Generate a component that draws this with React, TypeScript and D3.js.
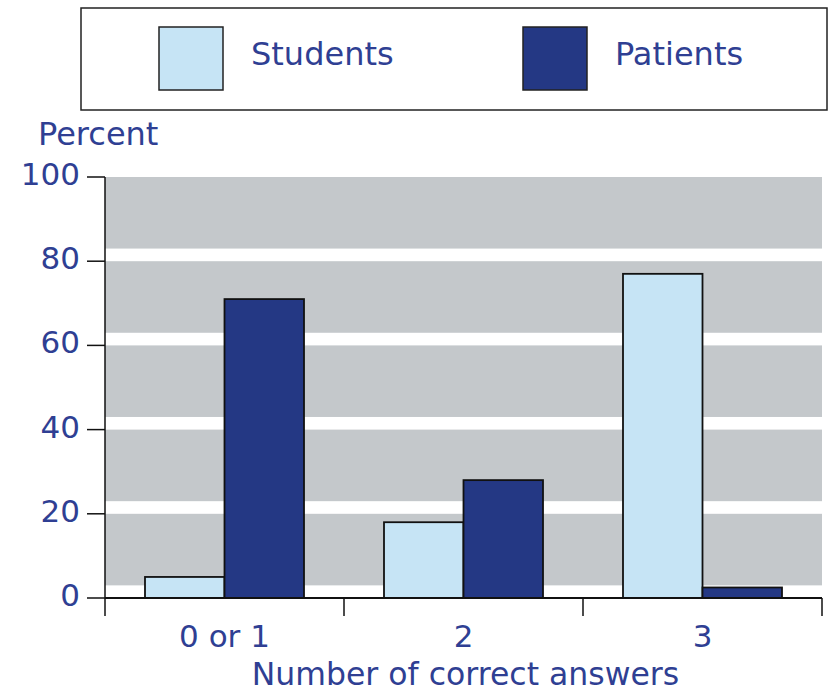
import React from 'react'
import { scaleLinear, scaleBand } from 'd3'

const categories = ['0 or 1', '2', '3']
const seriesNames = ['Students', 'Patients']
const students = [5, 18, 77]
const patients = [71, 28, 2.5]
const yTicks = [0, 20, 40, 60, 80, 100]

const colors: Record<string, string> = { Students: '#c6e4f5', Patients: '#243884' }
const textColor = '#2f3f93'
const font = '"DejaVu Sans", sans-serif'

function App() {
  const width = 832
  const height = 694
  const margin = { top: 177, right: 10, bottom: 96, left: 105 }
  const plotRight = width - margin.right
  const plotBottom = height - margin.bottom

  const x = scaleBand().domain(categories).range([margin.left, plotRight])
  const bw = x.bandwidth()
  const xSub = scaleBand().domain(seriesNames).range([40, bw - 40])
  const y = scaleLinear().domain([0, 100]).range([plotBottom, margin.top])

  const values: Record<string, number[]> = { Students: students, Patients: patients }
  const tickLen = 18

  return (
    <svg width={width} height={height} style={{ position: 'absolute', left: 0, top: 0 }}>
      {/* legend */}
      <rect x={81} y={8} width={746} height={102} fill="white" stroke="#222" strokeWidth={1.5} />
      {seriesNames.map((s, i) => (
        <g key={s} transform={`translate(${159 + i * 364},27)`}>
          <rect width={64} height={63} fill={colors[s]} stroke="#222" strokeWidth={1.5} />
          <text x={92} y={38} fontFamily={font} fontSize={32} fill={textColor}>{s}</text>
        </g>
      ))}

      {/* plot background: grey bands, white strips just above each grid value */}
      <rect x={margin.left} y={margin.top} width={plotRight - margin.left} height={plotBottom - margin.top} fill="#c4c8cb" />
      {yTicks.slice(0, -1).map(t => (
        <rect key={t} x={margin.left} y={y(t + 3)} width={plotRight - margin.left} height={y(t) - y(t + 3)} fill="white" />
      ))}

      {/* bars */}
      {categories.map((c, i) => (
        <g key={c} transform={`translate(${x(c)},0)`}>
          {seriesNames.map(s => (
            <rect key={s} x={xSub(s)} y={y(values[s][i])} width={xSub.bandwidth()}
              height={plotBottom - y(values[s][i])} fill={colors[s]} stroke="#111" strokeWidth={1.8} />
          ))}
        </g>
      ))}

      {/* y axis */}
      <line x1={margin.left} x2={margin.left} y1={margin.top} y2={plotBottom + tickLen} stroke="#111" strokeWidth={1.5} />
      {yTicks.map(t => (
        <g key={t}>
          <line x1={margin.left - tickLen} x2={margin.left} y1={y(t)} y2={y(t)} stroke="#111" strokeWidth={1.5} />
          <text x={80} y={y(t) + 8} textAnchor="end" fontFamily={font} fontSize={31} fill={textColor}>{t}</text>
        </g>
      ))}
      <text x={38} y={145} fontFamily={font} fontSize={32} fill={textColor}>Percent</text>

      {/* x axis */}
      <line x1={margin.left} x2={plotRight} y1={plotBottom} y2={plotBottom} stroke="#111" strokeWidth={2} />
      {categories.map(c => (
        <g key={c}>
          <line x1={(x(c) ?? 0) + bw} x2={(x(c) ?? 0) + bw} y1={plotBottom} y2={plotBottom + tickLen} stroke="#111" strokeWidth={1.5} />
          <text x={(x(c) ?? 0) + bw / 2} y={647} textAnchor="middle" fontFamily={font} fontSize={31} fill={textColor}>{c}</text>
        </g>
      ))}
      <text x={(margin.left + plotRight) / 2 + 2} y={685} textAnchor="middle" fontFamily={font} fontSize={31.5} fill={textColor}>
        Number of correct answers
      </text>
    </svg>
  )
}

export default App
